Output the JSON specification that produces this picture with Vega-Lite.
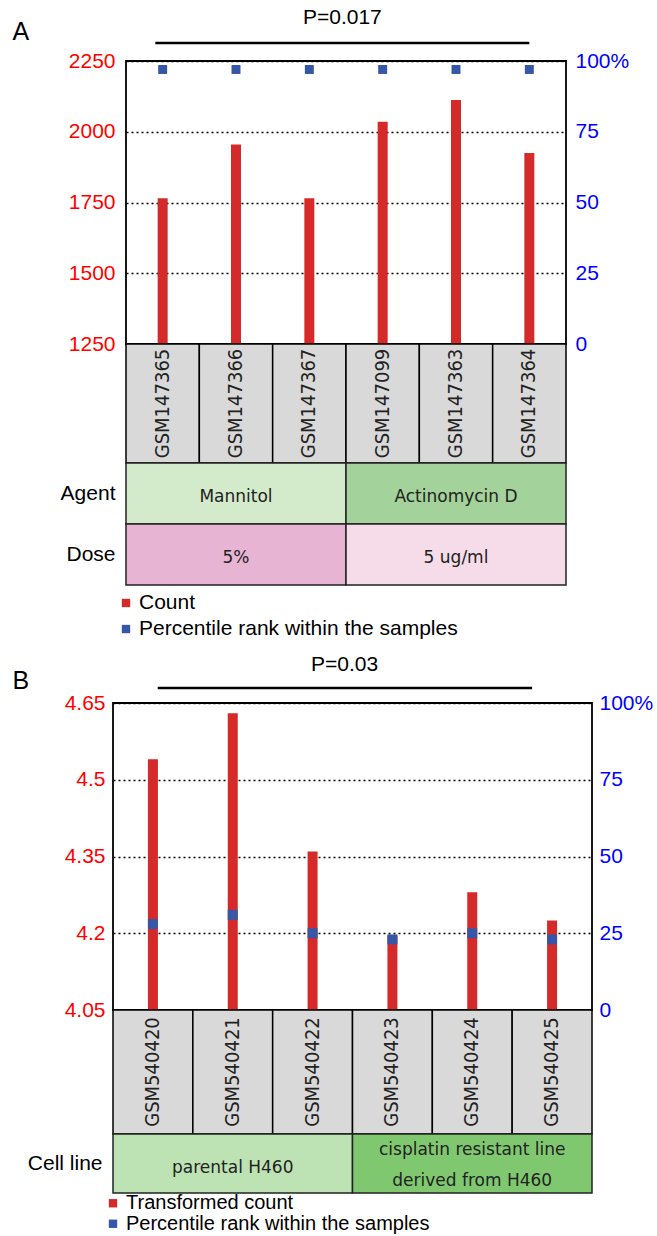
{
  "$schema": "https://vega.github.io/schema/vega-lite/v6.json",
  "padding": {"left": 12, "top": 5, "right": 0, "bottom": 0},
  "background": "white",
  "config": {"font": "Liberation Sans", "view": {"stroke": null}},
  "datasets": {
    "A": [
      {"sample": "GSM147365", "count": 1765, "pct": 97},
      {"sample": "GSM147366", "count": 1955, "pct": 97},
      {"sample": "GSM147367", "count": 1765, "pct": 97},
      {"sample": "GSM147099", "count": 2035, "pct": 97},
      {"sample": "GSM147363", "count": 2112, "pct": 97},
      {"sample": "GSM147364", "count": 1925, "pct": 97}
    ],
    "B": [
      {"sample": "GSM540420", "count": 4.54, "pct": 28},
      {"sample": "GSM540421", "count": 4.63, "pct": 31},
      {"sample": "GSM540422", "count": 4.36, "pct": 25},
      {"sample": "GSM540423", "count": 4.195, "pct": 23},
      {"sample": "GSM540424", "count": 4.28, "pct": 25},
      {"sample": "GSM540425", "count": 4.225, "pct": 23}
    ]
  },
  "concat": [
    {
      "hconcat": [
        {"width": 13, "height": 1, "data": {"values": []}, "mark": "rect"},
        {
          "vconcat": [
            {
              "width": 440, "height": 56,
              "data": {"values": [{"p": "P=0.017", "start": 0.4, "end": 5.5, "mid": 2.95}]},
              "layer": [
                {"mark": {"type": "rule", "strokeWidth": 2.5, "color": "black"},
                 "encoding": {
                   "x": {"field": "start", "type": "quantitative", "scale": {"domain": [0, 6]}, "axis": null},
                   "x2": {"field": "end"},
                   "y": {"datum": 0.32, "type": "quantitative", "scale": {"domain": [0, 1]},
                         "axis": {"title": "A", "labels": false, "ticks": false, "domain": false, "grid": false,
                                  "titleAngle": 0, "titleX": -114, "titleY": 26, "titleAlign": "left", "titleBaseline": "middle",
                                  "titleFontSize": 25, "titleFontWeight": "normal", "titleColor": "black"}}}},
                {"mark": {"type": "text", "fontSize": 21, "baseline": "middle", "color": "black"},
                 "encoding": {
                   "x": {"field": "mid", "type": "quantitative"},
                   "y": {"datum": 0.77, "type": "quantitative"},
                   "text": {"field": "p"}}}
              ]
            },
            {
              "width": 440, "height": 283,
              "data": {"name": "A"},
              "view": {"stroke": "black", "strokeWidth": 1.8},
              "layer": [
                {"mark": {"type": "bar", "color": "#d42a2a", "width": 10},
                 "encoding": {
                   "x": {"field": "sample", "type": "nominal", "sort": null, "axis": null, "scale": {"paddingInner": 0, "paddingOuter": 0}},
                   "y": {"field": "count", "type": "quantitative", "scale": {"domain": [1250, 2250], "zero": false, "nice": false},
                         "axis": {"orient": "left", "values": [1250, 1500, 1750, 2000, 2250], "labelExpr": "format(datum.value, 'd')",
                                  "grid": true, "gridDash": [2, 3],
                                  "gridColor": "black", "gridWidth": 1.5, "gridOpacity": 1, "ticks": false, "domain": false,
                                  "labelColor": "#ff0000", "labelFontSize": 21, "labelPadding": 11, "title": null}},
                   "y2": {"datum": 1250}}},
                {"mark": {"type": "point", "shape": "square", "filled": true, "size": 80, "color": "#3656a8", "opacity": 1},
                 "encoding": {
                   "x": {"field": "sample", "type": "nominal", "sort": null},
                   "y": {"field": "pct", "type": "quantitative", "scale": {"domain": [0, 100], "nice": false},
                         "axis": {"orient": "right", "values": [0, 25, 50, 75, 100], "labelExpr": "datum.value == 100 ? '100%' : datum.label",
                                  "labelColor": "#0000ff", "labelFontSize": 21, "ticks": false, "domain": false, "grid": false,
                                  "title": null, "labelPadding": 9}}}}
              ],
              "resolve": {"scale": {"y": "independent"}}
            },
            {
              "width": 440, "height": 119,
              "data": {"name": "A"},
              "layer": [
                {"mark": {"type": "rect", "fill": "#d9d9d9", "stroke": "black", "strokeWidth": 1.5},
                 "encoding": {"x": {"field": "sample", "type": "nominal", "sort": null, "axis": null, "scale": {"paddingInner": 0, "paddingOuter": 0}}}},
                {"mark": {"type": "text", "angle": 270, "fontSize": 20, "font": "DejaVu Sans Condensed, Liberation Sans", "color": "#222"},
                 "encoding": {"x": {"field": "sample", "type": "nominal", "sort": null}, "text": {"field": "sample"}}}
              ]
            },
            {
              "width": 440, "height": 122,
              "data": {"values": [
                {"row": "Agent", "label": "Mannitol", "start": 0, "end": 3, "mid": 1.5},
                {"row": "Agent", "label": "Actinomycin D", "start": 3, "end": 6, "mid": 4.5},
                {"row": "Dose", "label": "5%", "start": 0, "end": 3, "mid": 1.5},
                {"row": "Dose", "label": "5 ug/ml", "start": 3, "end": 6, "mid": 4.5}
              ]},
              "layer": [
                {"mark": {"type": "rect", "stroke": "#222", "strokeWidth": 1.5},
                 "encoding": {
                   "x": {"field": "start", "type": "quantitative", "scale": {"domain": [0, 6]}, "axis": null},
                   "x2": {"field": "end"},
                   "y": {"field": "row", "type": "nominal", "sort": ["Agent", "Dose"], "scale": {"paddingInner": 0, "paddingOuter": 0},
                         "axis": {"title": null, "ticks": false, "domain": false, "labelFontSize": 21, "labelPadding": 11, "labelColor": "black"}},
                   "fill": {"field": "label", "type": "nominal",
                            "scale": {"domain": ["Mannitol", "Actinomycin D", "5%", "5 ug/ml"], "range": ["#d3eacb", "#a3d39a", "#e8b4d4", "#f6dbe9"]},
                            "legend": null}}},
                {"mark": {"type": "text", "fontSize": 17, "font": "DejaVu Sans", "dy": 3, "color": "#222"},
                 "encoding": {
                   "x": {"field": "mid", "type": "quantitative"},
                   "y": {"field": "row", "type": "nominal", "sort": ["Agent", "Dose"]},
                   "text": {"field": "label"}}}
              ]
            },
            {
              "width": 440, "height": 62,
              "data": {"values": [{"item": "Count"}, {"item": "Percentile rank within the samples"}]},
              "layer": [
                {"mark": {"type": "square", "size": 70, "opacity": 1},
                 "encoding": {
                   "x": {"datum": 0, "type": "quantitative", "scale": {"domain": [0, 1]}, "axis": null},
                   "y": {"field": "item", "type": "nominal", "sort": null, "scale": {"type": "point", "padding": 0.69}, "axis": null},
                   "color": {"field": "item", "type": "nominal", "scale": {"domain": ["Count", "Percentile rank within the samples"], "range": ["#d42a2a", "#3656a8"]}, "legend": null}}},
                {"mark": {"type": "text", "align": "left", "dx": 13, "fontSize": 21, "color": "black"},
                 "encoding": {
                   "x": {"datum": 0, "type": "quantitative"},
                   "y": {"field": "item", "type": "nominal", "sort": null},
                   "text": {"field": "item"}}}
              ]
            }
          ],
          "spacing": 0,
          "bounds": "flush"
        }
      ],
      "spacing": 0,
      "bounds": "flush"
    },
    {
      "vconcat": [
        {
          "width": 479, "height": 56,
          "data": {"values": [{"p": "P=0.03", "start": 0.56, "end": 5.25, "mid": 2.9}]},
          "layer": [
            {"mark": {"type": "rule", "strokeWidth": 2.5, "color": "black"},
             "encoding": {
               "x": {"field": "start", "type": "quantitative", "scale": {"domain": [0, 6]}, "axis": null},
               "x2": {"field": "end"},
               "y": {"datum": 0.27, "type": "quantitative", "scale": {"domain": [0, 1]},
                     "axis": {"title": "B", "labels": false, "ticks": false, "domain": false, "grid": false,
                              "titleAngle": 0, "titleX": -101, "titleY": 33, "titleAlign": "left", "titleBaseline": "middle",
                              "titleFontSize": 25, "titleFontWeight": "normal", "titleColor": "black"}}}},
            {"mark": {"type": "text", "fontSize": 21, "baseline": "middle", "color": "black"},
             "encoding": {
               "x": {"field": "mid", "type": "quantitative"},
               "y": {"datum": 0.68, "type": "quantitative"},
               "text": {"field": "p"}}}
          ]
        },
        {
          "width": 479, "height": 307,
          "data": {"name": "B"},
          "view": {"stroke": "black", "strokeWidth": 1.8},
          "layer": [
            {"mark": {"type": "bar", "color": "#d42a2a", "width": 10},
             "encoding": {
               "x": {"field": "sample", "type": "nominal", "sort": null, "axis": null, "scale": {"paddingInner": 0, "paddingOuter": 0}},
               "y": {"field": "count", "type": "quantitative", "scale": {"domain": [4.05, 4.65], "zero": false, "nice": false},
                     "axis": {"orient": "left", "values": [4.05, 4.2, 4.35, 4.5, 4.65], "labelExpr": "format(datum.value, '.2~f')",
                              "grid": true, "gridDash": [2, 3],
                              "gridColor": "black", "gridWidth": 1.5, "gridOpacity": 1, "ticks": false, "domain": false,
                              "labelColor": "#ff0000", "labelFontSize": 21, "labelPadding": 8, "title": null}},
               "y2": {"datum": 4.05}}},
            {"mark": {"type": "point", "shape": "square", "filled": true, "size": 100, "color": "#3656a8", "opacity": 1},
             "encoding": {
               "x": {"field": "sample", "type": "nominal", "sort": null},
               "y": {"field": "pct", "type": "quantitative", "scale": {"domain": [0, 100], "nice": false},
                     "axis": {"orient": "right", "values": [0, 25, 50, 75, 100], "labelExpr": "datum.value == 100 ? '100%' : datum.label",
                              "labelColor": "#0000ff", "labelFontSize": 21, "ticks": false, "domain": false, "grid": false,
                              "title": null, "labelPadding": 7}}}}
          ],
          "resolve": {"scale": {"y": "independent"}}
        },
        {
          "width": 479, "height": 124,
          "data": {"name": "B"},
          "layer": [
            {"mark": {"type": "rect", "fill": "#d9d9d9", "stroke": "black", "strokeWidth": 1.5},
             "encoding": {"x": {"field": "sample", "type": "nominal", "sort": null, "axis": null, "scale": {"paddingInner": 0, "paddingOuter": 0}}}},
            {"mark": {"type": "text", "angle": 270, "fontSize": 20, "font": "DejaVu Sans Condensed, Liberation Sans", "color": "#222"},
             "encoding": {"x": {"field": "sample", "type": "nominal", "sort": null}, "text": {"field": "sample"}}}
          ]
        },
        {
          "width": 479, "height": 59,
          "data": {"values": [
            {"row": "Cell line", "line": "parental H460", "label": "parental H460", "start": 0, "end": 3, "mid": 1.5},
            {"row": "Cell line", "line": "cisplatin resistant line derived from H460", "label": ["cisplatin resistant line", "derived from H460"], "start": 3, "end": 6, "mid": 4.5}
          ]},
          "layer": [
            {"mark": {"type": "rect", "stroke": "#222", "strokeWidth": 1.5},
             "encoding": {
               "x": {"field": "start", "type": "quantitative", "scale": {"domain": [0, 6]}, "axis": null},
               "x2": {"field": "end"},
               "y": {"field": "row", "type": "nominal", "scale": {"paddingInner": 0, "paddingOuter": 0},
                     "axis": {"title": null, "ticks": false, "domain": false, "labelFontSize": 21, "labelPadding": 11, "labelColor": "black"}},
               "fill": {"field": "line", "type": "nominal",
                        "scale": {"domain": ["parental H460", "cisplatin resistant line derived from H460"], "range": ["#bde3b4", "#80c870"]},
                        "legend": null}}},
            {"transform": [{"filter": "datum.start == 0"}],
             "mark": {"type": "text", "fontSize": 17, "font": "DejaVu Sans", "dy": 4, "color": "#222"},
             "encoding": {
               "x": {"field": "mid", "type": "quantitative"},
               "y": {"field": "row", "type": "nominal"},
               "text": {"field": "label"}}},
            {"transform": [{"filter": "datum.start == 3"}],
             "mark": {"type": "text", "fontSize": 17, "font": "DejaVu Sans", "dy": -14, "color": "#222", "lineHeight": 31},
             "encoding": {
               "x": {"field": "mid", "type": "quantitative"},
               "y": {"field": "row", "type": "nominal"},
               "text": {"field": "label"}}}
          ]
        },
        {
          "width": 479, "height": 41,
          "data": {"values": [{"item": "Transformed count"}, {"item": "Percentile rank within the samples"}]},
          "layer": [
            {"mark": {"type": "square", "size": 70, "opacity": 1},
             "encoding": {
               "x": {"datum": 0, "type": "quantitative", "scale": {"domain": [0, 1]}, "axis": null},
               "y": {"field": "item", "type": "nominal", "sort": null, "scale": {"type": "point", "padding": 0.5}, "axis": null},
               "color": {"field": "item", "type": "nominal", "scale": {"domain": ["Transformed count", "Percentile rank within the samples"], "range": ["#d42a2a", "#3656a8"]}, "legend": null}}},
            {"mark": {"type": "text", "align": "left", "dx": 13, "fontSize": 20, "color": "black"},
             "encoding": {
               "x": {"datum": 0, "type": "quantitative"},
               "y": {"field": "item", "type": "nominal", "sort": null},
               "text": {"field": "item"}}}
          ]
        }
      ],
      "spacing": 0,
      "bounds": "flush"
    }
  ],
  "columns": 1,
  "align": "none",
  "spacing": 0,
  "resolve": {"scale": {"fill": "independent", "color": "independent"}}
}
